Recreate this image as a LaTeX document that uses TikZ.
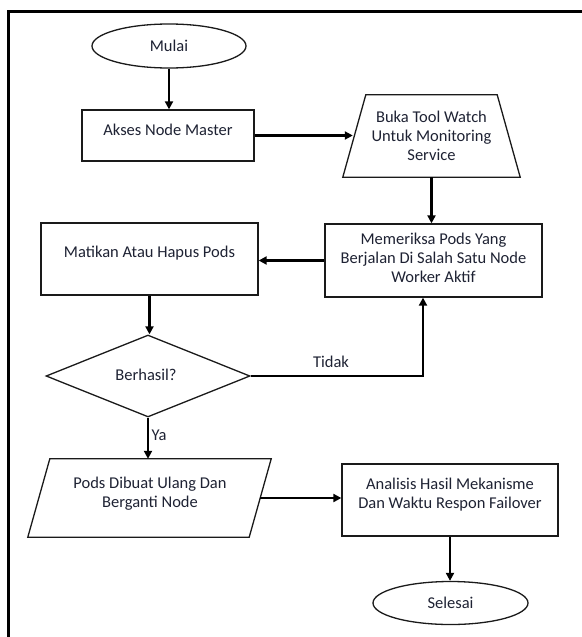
\documentclass[tikz,border=0pt]{standalone}
\usepackage{fontspec}
\setmainfont{Carlito}
\usetikzlibrary{shapes.geometric,arrows.meta}
\definecolor{ink}{HTML}{1E2233}
\definecolor{edge}{HTML}{1A1A1A}
\tikzset{
  shapeline/.style={draw=edge, line width=1.3pt, inner sep=0pt},
  flow/.style={draw=black, line width=2.4pt, -{Triangle[width=8pt,length=8pt]}},
  lbl/.style={font=\fontsize{16.5}{19}\selectfont, text=ink, align=center, inner sep=0pt},
  terminal/.style={shapeline, ellipse, minimum width=154pt, minimum height=44pt},
  procbox/.style={shapeline, rectangle},
  frame/.style={rectangle, inner sep=0pt},
}
\begin{document}
\begin{tikzpicture}[x=1pt,y=-1pt]
  \useasboundingbox (0,0) rectangle (581,637);
  \fill[white] (0,0) rectangle (581,637);

  % page frame (top and left edges)
  \draw[line width=3pt, line cap=rect] (581,11) -- (8.3,11) -- (8.3,637);

  % shapes
  \node[terminal] (mulai) at (169,46) {};
  \node[procbox, minimum width=172pt, minimum height=51pt] (akses) at (168,135.5) {};
  % manual-operation trapezoid: outline drawn from the frame's corners
  \node[frame, minimum width=177pt, minimum height=82pt] (trap) at (431.5,136) {};
  \draw[shapeline] ([xshift=23pt]trap.north west) -- ([xshift=-23pt]trap.north east)
        -- (trap.south east) -- (trap.south west) -- cycle;
  \node[procbox, minimum width=217pt, minimum height=73pt] (cek) at (433.5,260.5) {};
  \node[procbox, minimum width=217pt, minimum height=72pt] (matikan) at (149.5,259) {};
  \node[shapeline, diamond, minimum width=204pt, minimum height=82pt] (dia) at (148,376) {};
  % data parallelogram leaning right
  \node[frame, minimum width=243pt, minimum height=78pt] (para) at (149.5,498) {};
  \draw[shapeline] ([xshift=22pt]para.north west) -- (para.north east)
        -- ([xshift=-22pt]para.south east) -- (para.south west) -- cycle;
  \node[procbox, minimum width=216pt, minimum height=72pt] (ana) at (450,500) {};
  \node[terminal, minimum width=155pt, minimum height=43pt] (selesai) at (450.5,603) {};

  % texts
  \node[lbl] (mulai-t) at (169,46) {Mulai};
  \node[lbl] (akses-t) at (168,130) {Akses Node Master};
  \node[lbl] (trap-t) at (431.5,136) {Buka Tool Watch\\Untuk Monitoring\\Service};
  \node[lbl] (cek-t) at (433.5,258) {Memeriksa Pods Yang\\Berjalan Di Salah Satu Node\\Worker Aktif};
  \node[lbl] (matikan-t) at (149.5,253) {Matikan Atau Hapus Pods};
  \node[lbl] (dia-t) at (146,375) {Berhasil?};
  \node[lbl] (para-t) at (150,493.5) {Pods Dibuat Ulang Dan\\Berganti Node};
  \node[lbl] (ana-t) at (450,494.5) {Analisis Hasil Mekanisme\\Dan Waktu Respon Failover};
  \node[lbl] (selesai-t) at (450.5,603) {Selesai};

  % connectors
  \draw[flow] (mulai.south) -- (mulai.south |- akses.north);
  \draw[flow] (akses.east) -- ([xshift=10pt]akses.east -| trap.west);
  \draw[flow] (trap.south) -- (trap.south |- cek.north);
  \draw[flow] (cek.west) -- (cek.west -| matikan.east);
  \draw[flow] (matikan.south) -- (matikan.south |- dia.north);
  \coordinate (turn) at (423,376);
  \draw[flow] (dia.east) -- (turn) -- (turn |- cek.south);
  \node[lbl] (tidak) at (331,362) {Tidak};
  \draw[flow] (dia.south) -- (dia.south |- para.north);
  \node[lbl, anchor=west] (ya) at (151.5,435) {Ya};
  \draw[flow] ([xshift=-11pt]para.east) -- (para.east -| ana.west);
  \draw[flow] (ana.south) -- (ana.south |- selesai.north);
\end{tikzpicture}
\end{document}
